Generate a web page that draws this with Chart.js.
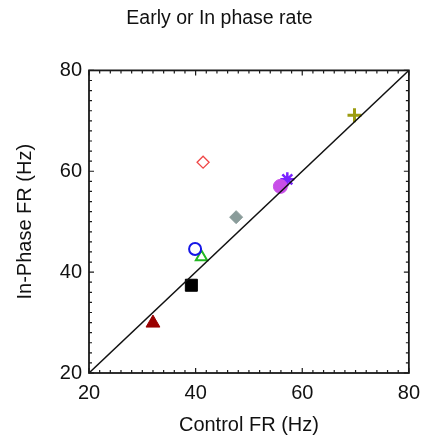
<!DOCTYPE html>
<html>
<head>
<meta charset="utf-8">
<script src="https://cdn.jsdelivr.net/npm/chart.js@4/dist/chart.umd.min.js"></script>
<style>
  html, body { margin: 0; padding: 0; background: #fff; }
  #wrap { width: 428px; height: 444px; }
</style>
</head>
<body>
<div id="wrap"><canvas id="scatter"></canvas></div>
<script>
// values
const cellNames = ["cell 1", "cell 2", "cell 3", "cell 4", "cell 5", "cell 6", "cell 7", "cell 8", "cell 9"];
const controlFR = [41.4, 47.6, 39.9, 41.1, 39.2, 32.0, 55.9, 57.2, 69.8];
const inPhaseFR = [61.8, 50.9, 44.6, 43.0, 37.4, 29.9, 57.0, 58.4, 71.1];
const unityLine = [20, 80];
const axisTicks = [20, 40, 60, 80];

// marker look for each cell
const markers = [
  { style: "rectRot", color: "#f04848", fill: false, r: 6, w: 1.3 },
  { style: "rectRot", color: "#8a9c9a", fill: true, r: 6.5, w: 1 },
  { style: "circle", color: "#1616e6", fill: false, r: 6, w: 2 },
  { style: "triangle", color: "#22b822", fill: false, r: 6.5, w: 2 },
  { style: "rect", color: "#000000", fill: true, r: 8.5, w: 1 },
  { style: "triangle", color: "#9a0000", fill: true, r: 8, w: 1 },
  { style: "circle", color: "#c84ee8", fill: true, r: 7, w: 1 },
  { style: "star", color: "#7a22ff", fill: false, r: 7, w: 2.5 },
  { style: "cross", color: "#9c9c10", fill: false, r: 7, w: 3 }
];

const datasets = [{
  label: "unity",
  data: unityLine.map(v => ({ x: v, y: v })),
  showLine: true,
  borderColor: "#111",
  borderWidth: 1.5,
  pointRadius: 0,
  order: 0
}];

cellNames.forEach((name, i) => {
  const m = markers[i];
  datasets.push({
    label: name,
    data: [{ x: controlFR[i], y: inPhaseFR[i] }],
    pointStyle: m.style,
    pointRadius: m.r,
    pointBorderWidth: m.w,
    borderColor: m.color,
    backgroundColor: m.fill ? m.color : "rgba(0,0,0,0)",
    order: 1
  });
});

// box around the axes with small inward ticks every 2 Hz
const boxTicks = {
  id: "boxTicks",
  afterDraw(chart) {
    const { ctx, chartArea: a, scales } = chart;
    const xs = scales.x, ys = scales.y;
    ctx.save();
    ctx.strokeStyle = "#1a1a1a";
    ctx.lineWidth = 1.8;
    ctx.strokeRect(a.left, a.top, a.right - a.left, a.bottom - a.top);
    ctx.lineWidth = 1.2;
    ctx.beginPath();
    for (let v = xs.min; v <= xs.max; v += 2) {
      const len = v % 20 === 0 ? 5 : 3;
      const px = xs.getPixelForValue(v);
      ctx.moveTo(px, a.bottom); ctx.lineTo(px, a.bottom - len);
      ctx.moveTo(px, a.top); ctx.lineTo(px, a.top + len);
    }
    for (let v = ys.min; v <= ys.max; v += 2) {
      const len = v % 20 === 0 ? 5 : 3;
      const py = ys.getPixelForValue(v);
      ctx.moveTo(a.left, py); ctx.lineTo(a.left + len, py);
      ctx.moveTo(a.right, py); ctx.lineTo(a.right - len, py);
    }
    ctx.stroke();
    ctx.restore();
  }
};

const fontFamily = "'Liberation Sans', Arial, sans-serif";
const tickFont = { family: fontFamily, size: 20 };

new Chart(document.getElementById("scatter"), {
  type: "scatter",
  data: { datasets: datasets },
  options: {
    responsive: true,
    maintainAspectRatio: false,
    animation: false,
    // left padding pushes the centred title over the plot box
    layout: { padding: { left: 30, right: 19, top: 0, bottom: 0 } },
    plugins: {
      legend: { display: false },
      tooltip: { enabled: false },
      title: {
        display: true,
        text: "Early or In phase rate",
        color: "#111",
        font: { family: fontFamily, size: 19.5, weight: "normal" },
        padding: { top: 7, bottom: 40 }
      }
    },
    scales: {
      x: {
        type: "linear",
        min: 20,
        max: 80,
        afterFit(scale) { scale.height = 71; },
        afterBuildTicks(scale) { scale.ticks = axisTicks.map(v => ({ value: v })); },
        grid: { display: false, drawTicks: false },
        border: { display: false },
        ticks: { color: "#111", font: tickFont, padding: 8, maxRotation: 0 },
        title: {
          display: true,
          text: "Control FR (Hz)",
          color: "#111",
          font: { family: fontFamily, size: 20 },
          padding: { top: 0, bottom: 7 }
        }
      },
      y: {
        type: "linear",
        min: 20,
        max: 80,
        afterFit(scale) { scale.width = 59; },
        afterBuildTicks(scale) { scale.ticks = axisTicks.map(v => ({ value: v })); },
        grid: { display: false, drawTicks: false },
        border: { display: false },
        ticks: { color: "#111", font: tickFont, padding: 7 },
        title: {
          display: true,
          text: "In-Phase FR (Hz)",
          color: "#111",
          font: { family: fontFamily, size: 20 },
          padding: { top: -17, bottom: 0 }
        }
      }
    }
  },
  plugins: [boxTicks]
});
</script>
</body>
</html>
